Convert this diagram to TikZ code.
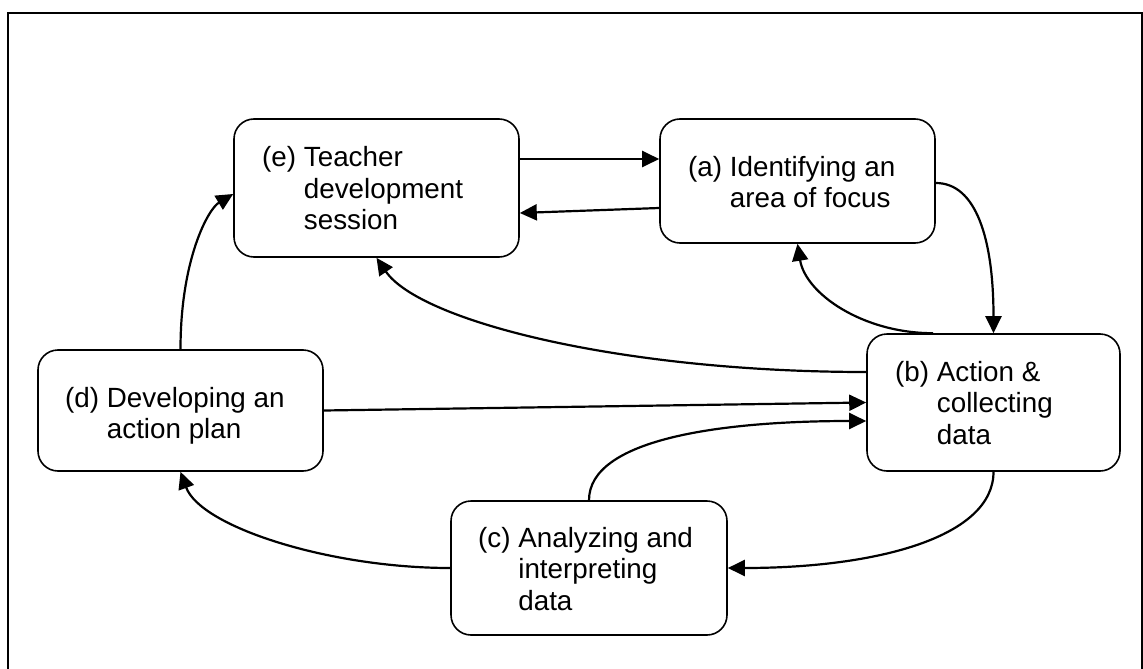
\documentclass[tikz,border=0pt]{standalone}
\usepackage{fontspec}
\setmainfont{Liberation Sans}
\usetikzlibrary{arrows.meta}
\tikzset{
  stagebox/.style={draw=black, line width=1.6pt, rounded corners=20pt, inner sep=0pt, fill=white},
  stagetext/.style={anchor=base west, inner sep=0pt, font=\fontsize{27.8}{31.5}\selectfont},
  flow/.style={line width=2.2pt, -{Triangle[length=17pt,width=16pt]}},
  frame/.style={line width=2.2pt}
}
\newcommand{\stage}[2]{\begin{tabular}[t]{@{}l@{\ }l@{}}#1&#2\end{tabular}}
\begin{document}
\begin{tikzpicture}[x=1pt, y=-1pt]
  \useasboundingbox (0,0) rectangle (1143,669);
  \fill[white] (0,0) rectangle (1143,669);

  % open frame round the cycle
  \draw[frame] (8,669) -- (8,13) -- (1142,13) -- (1142,669);

  % stage boxes
  \node[stagebox, minimum width=285pt, minimum height=138pt] (e) at (376.5,188) {};
  \node[stagebox, minimum width=275pt, minimum height=124pt] (a) at (797.5,181) {};
  \node[stagebox, minimum width=285pt, minimum height=121pt] (d) at (180.5,410.5) {};
  \node[stagebox, minimum width=253pt, minimum height=137pt] (b) at (993.5,402.5) {};
  \node[stagebox, minimum width=276pt, minimum height=134pt] (c) at (589,568) {};

  % stage labels
  \node[stagetext] (et) at (262,166.5) {\stage{(e)}{Teacher\\&development\\&session}};
  \node[stagetext] (at) at (688,176) {\stage{(a)}{Identifying an\\&area of focus}};
  \node[stagetext] (dt) at (65,407) {\stage{(d)}{Developing an\\&action plan}};
  \node[stagetext] (bt) at (895,381) {\stage{(b)}{Action \&\\&collecting\\&data}};
  \node[stagetext] (ct) at (478,547) {\stage{(c)}{Analyzing and\\&interpreting\\&data}};

  % connectors
  \draw[flow] ([yshift=29pt]e.east) -- ([yshift=22pt]a.west);
  \draw[flow] ([yshift=-27pt]a.west) -- ([yshift=-25pt]e.east);
  \draw[flow] ([yshift=-2pt]a.east) .. controls +(40,0) and +(0,-95) .. (b.north);
  \draw[flow] ([xshift=-60.5pt]b.north) .. controls +(-70,0) and +(8,50) .. (a.south);
  \draw[flow] ([yshift=30.5pt]b.west) .. controls +(-247,0) and +(43,63) .. (e.south);
  \draw[flow] (d.east) -- (b.west);
  \draw[flow] (c.north) .. controls +(0,-60) and +(-150,0) .. ([yshift=-18.5pt]b.west);
  \draw[flow] (b.south) .. controls +(0,65) and +(150,0) .. (c.east);
  \draw[flow] (c.west) .. controls +(-121,0) and +(20,55) .. (d.south);
  \draw[flow] (d.north) .. controls +(0,-90) and +(-25,15) .. ([yshift=-6pt]e.west);
\end{tikzpicture}
\end{document}
